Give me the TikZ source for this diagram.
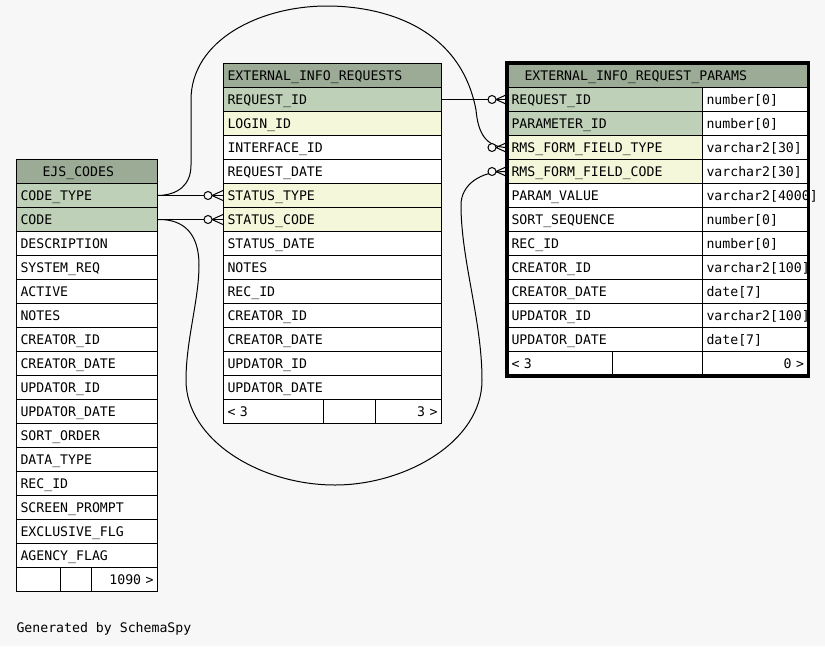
\documentclass[tikz,border=0pt]{standalone}
\usepackage{fontspec}
\setmonofont{DejaVu Sans Mono}
\usetikzlibrary{calc}
\definecolor{bg}{HTML}{F7F7F7}
\definecolor{headbg}{HTML}{9BAB96}
\definecolor{pkbg}{HTML}{BED1B8}
\definecolor{ixbg}{HTML}{F4F7DA}
\tikzstyle{schema}=[x=1pt, y=-1pt, line width=1pt, font=\ttfamily\fontsize{13.2pt}{15pt}\selectfont]
\tikzstyle{cell}=[rectangle, draw, fill=white, anchor=north west, inner xsep=4pt, inner ysep=0pt, text height=12.5pt, text depth=3pt, minimum height=24pt, align=left]
\tikzstyle{head}=[fill=headbg]
\tikzstyle{pk}=[fill=pkbg]
\tikzstyle{ix}=[fill=ixbg]
\tikzstyle{ejs}=[cell, text width=133pt]
\tikzstyle{eir}=[cell, text width=210pt]
\tikzstyle{pname}=[cell, text width=187pt]
\tikzstyle{ptype}=[cell, text width=97.5pt]
\tikzstyle{link}=[-, draw=black]
\tikzstyle{ring}=[circle, draw, fill=bg, inner sep=0pt, minimum size=8pt]
\newcommand{\crowfoot}[1]{%
  \draw (#1.west) ++(0,-5) -- ++(-11,5) -- ++(11,5);
  \node[ring] (#1-ring) at ($(#1.west)+(-15,0)$) {};}

\begin{document}
\begin{tikzpicture}[schema]
			%The canvas
			\fill[bg] (0,0) rectangle (825,646);
			\useasboundingbox (0,0) rectangle (825,646);

			%EJS_CODES
			\draw (16,159) node[ejs, head] (ejs-head) {\hspace*{22pt}EJS\_CODES};
			\draw (16,183) node[ejs, pk] (ejs-codetype) {CODE\_TYPE};
			\draw (16,207) node[ejs, pk] (ejs-code) {CODE};
			\draw (16,231) node[ejs] (ejs-descr) {DESCRIPTION};
			\draw (16,255) node[ejs] (ejs-sysreq) {SYSTEM\_REQ};
			\draw (16,279) node[ejs] (ejs-active) {ACTIVE};
			\draw (16,303) node[ejs] (ejs-notes) {NOTES};
			\draw (16,327) node[ejs] (ejs-crid) {CREATOR\_ID};
			\draw (16,351) node[ejs] (ejs-crdate) {CREATOR\_DATE};
			\draw (16,375) node[ejs] (ejs-upid) {UPDATOR\_ID};
			\draw (16,399) node[ejs] (ejs-update) {UPDATOR\_DATE};
			\draw (16,423) node[ejs] (ejs-sort) {SORT\_ORDER};
			\draw (16,447) node[ejs] (ejs-datatype) {DATA\_TYPE};
			\draw (16,471) node[ejs] (ejs-recid) {REC\_ID};
			\draw (16,495) node[ejs] (ejs-prompt) {SCREEN\_PROMPT};
			\draw (16,519) node[ejs] (ejs-excl) {EXCLUSIVE\_FLG};
			\draw (16,543) node[ejs] (ejs-agency) {AGENCY\_FLAG};
			\draw (16,567) node[cell, text width=36pt] (ejs-foot1) {};
			\draw (60,567) node[cell, text width=23pt] (ejs-foot2) {};
			\draw (91,567) node[cell, text width=58pt, align=right] (ejs-foot3) {1090 >};

			%EXTERNAL_INFO_REQUESTS
			\draw (223,63) node[eir, head] (eir-head) {EXTERNAL\_INFO\_REQUESTS};
			\draw (223,87) node[eir, pk] (eir-reqid) {REQUEST\_ID};
			\draw (223,111) node[eir, ix] (eir-login) {LOGIN\_ID};
			\draw (223,135) node[eir] (eir-iface) {INTERFACE\_ID};
			\draw (223,159) node[eir] (eir-reqdate) {REQUEST\_DATE};
			\draw (223,183) node[eir, ix] (eir-stype) {STATUS\_TYPE};
			\draw (223,207) node[eir, ix] (eir-scode) {STATUS\_CODE};
			\draw (223,231) node[eir] (eir-sdate) {STATUS\_DATE};
			\draw (223,255) node[eir] (eir-notes) {NOTES};
			\draw (223,279) node[eir] (eir-recid) {REC\_ID};
			\draw (223,303) node[eir] (eir-crid) {CREATOR\_ID};
			\draw (223,327) node[eir] (eir-crdate) {CREATOR\_DATE};
			\draw (223,351) node[eir] (eir-upid) {UPDATOR\_ID};
			\draw (223,375) node[eir] (eir-update) {UPDATOR\_DATE};
			\draw (223,399) node[cell, text width=92pt] (eir-foot1) {< 3};
			\draw (323,399) node[cell, text width=44pt] (eir-foot2) {};
			\draw (375,399) node[cell, text width=58pt, align=right] (eir-foot3) {3 >};

			%EXTERNAL_INFO_REQUEST_PARAMS
			\draw (507,63) node[cell, head, text width=292.5pt] (prm-head) {\hspace*{13pt}EXTERNAL\_INFO\_REQUEST\_PARAMS};
			\draw (507,87) node[pname, pk] (prm-reqid) {REQUEST\_ID};
			\draw (702,87) node[ptype] (prm-reqid-t) {number[0]};
			\draw (507,111) node[pname, pk] (prm-parid) {PARAMETER\_ID};
			\draw (702,111) node[ptype] (prm-parid-t) {number[0]};
			\draw (507,135) node[pname, ix] (prm-ftype) {RMS\_FORM\_FIELD\_TYPE};
			\draw (702,135) node[ptype] (prm-ftype-t) {varchar2[30]};
			\draw (507,159) node[pname, ix] (prm-fcode) {RMS\_FORM\_FIELD\_CODE};
			\draw (702,159) node[ptype] (prm-fcode-t) {varchar2[30]};
			\draw (507,183) node[pname] (prm-value) {PARAM\_VALUE};
			\draw (702,183) node[ptype] (prm-value-t) {varchar2[4000]};
			\draw (507,207) node[pname] (prm-sort) {SORT\_SEQUENCE};
			\draw (702,207) node[ptype] (prm-sort-t) {number[0]};
			\draw (507,231) node[pname] (prm-recid) {REC\_ID};
			\draw (702,231) node[ptype] (prm-recid-t) {number[0]};
			\draw (507,255) node[pname] (prm-crid) {CREATOR\_ID};
			\draw (702,255) node[ptype] (prm-crid-t) {varchar2[100]};
			\draw (507,279) node[pname] (prm-crdate) {CREATOR\_DATE};
			\draw (702,279) node[ptype] (prm-crdate-t) {date[7]};
			\draw (507,303) node[pname] (prm-upid) {UPDATOR\_ID};
			\draw (702,303) node[ptype] (prm-upid-t) {varchar2[100]};
			\draw (507,327) node[pname] (prm-update) {UPDATOR\_DATE};
			\draw (702,327) node[ptype] (prm-update-t) {date[7]};
			\draw (507,351) node[cell, text width=97pt] (prm-foot1) {< 3};
			\draw (612,351) node[cell, text width=82pt] (prm-foot2) {};
			\draw (702,351) node[ptype, align=right] (prm-foot3) {0 >};
			\draw[line width=3.5pt] (prm-head.north west) rectangle (prm-foot3.south east);

			%The relationships
			\draw[link] (ejs-codetype.east) -- (eir-stype.west);
			\draw[link] (ejs-code.east) -- (eir-scode.west);
			\draw[link] (eir-reqid.east) -- (prm-reqid.west);
			\draw[link] (ejs-codetype.east) .. controls (178,195) and (191,185) .. (191,165)
				-- (191,100) .. controls (191,40) and (260,6) .. (327,6)
				.. controls (380,6) and (460,25) .. (476,110)
				.. controls (478,132) and (485,147) .. (prm-ftype.west);
			\draw[link] (ejs-code.east) .. controls (185,219) and (199,235) .. (199,265)
				.. controls (199,300) and (186,340) .. (186,380)
				.. controls (186,440) and (260,485) .. (335,485)
				.. controls (405,485) and (482,442) .. (482,380)
				.. controls (482,320) and (461,260) .. (461,205)
				.. controls (461,185) and (480,171) .. (prm-fcode.west);

			%The crow's feet
			\crowfoot{eir-stype}
			\crowfoot{eir-scode}
			\crowfoot{prm-reqid}
			\crowfoot{prm-ftype}
			\crowfoot{prm-fcode}

			%The footnote
			\draw (16,632) node[anchor=base west, inner sep=0pt] (gen) {Generated by SchemaSpy};
		\end{tikzpicture}
\end{document}
